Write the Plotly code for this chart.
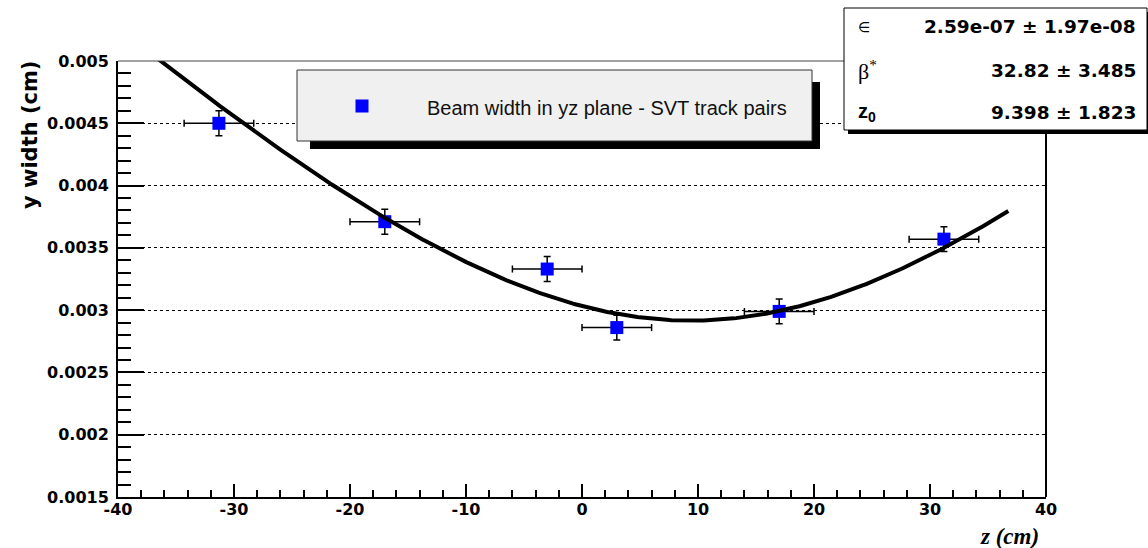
import numpy as np
import plotly.graph_objects as go

# ---------------- data ----------------
z_pos = [-31.3, -17.0, -3.0, 3.0, 17.0, 31.2]
y_width = [0.00450, 0.00371, 0.00333, 0.00286, 0.00299, 0.00357]
z_err = [3.0, 3.0, 3.0, 3.0, 3.0, 3.0]
y_err = [0.0001, 0.0001, 0.0001, 0.0001, 0.0001, 0.0001]

# fit parameters (shown in the stats box)
fit_eps = 2.59e-07
fit_beta = 32.82
fit_z0 = 9.398
fit_z_range = [-37.0, 36.75]

stat_names = ["∈", "β<sup>*</sup>", "<b>z<sub>0</sub></b>"]
stat_values = ["2.59e-07 ± 1.97e-08", "32.82 ± 3.485", "9.398 ± 1.823"]

x_tickvals = [-40, -30, -20, -10, 0, 10, 20, 30, 40]
x_ticktext = ["-40", "-30", "-20", "-10", "0", "10", "20", "30", "40"]
y_tickvals = [0.0015, 0.002, 0.0025, 0.003, 0.0035, 0.004, 0.0045, 0.005]
y_ticktext = ["0.0015", "0.002", "0.0025", "0.003", "0.0035", "0.004", "0.0045", "0.005"]

legend_label = "Beam width in yz plane - SVT track pairs"
x_title = "z (cm)"
y_title = "y width (cm)"

# ---------------- layout geometry (pixels) ----------------
W, H = 1148, 548
ML, MR, MT, MB = 118, 102, 61, 51
PW, PH = W - ML - MR, H - MT - MB


def px(xp):
    return (xp - ML) / PW


def py(yp):
    return (H - MB - yp) / PH


# fit curve evaluated from the fit parameters
z_fit = np.linspace(fit_z_range[0], fit_z_range[1], 400)
y_fit = np.sqrt(fit_eps * fit_beta * (1 + ((z_fit - fit_z0) / fit_beta) ** 2))

fig = go.Figure()

fig.add_trace(go.Scatter(
    x=z_pos, y=y_width, mode="markers",
    marker=dict(symbol="square", size=13, color="#0000ff", line=dict(width=0)),
    error_x=dict(type="data", array=z_err, color="black", thickness=1.5, width=3.5),
    error_y=dict(type="data", array=y_err, color="black", thickness=1.5, width=3.5),
    name=legend_label, showlegend=False,
))

fig.add_trace(go.Scatter(
    x=z_fit, y=y_fit, mode="lines",
    line=dict(color="black", width=4),
    showlegend=False, hoverinfo="skip",
))

tick_font = dict(family="DejaVu Sans, sans-serif", size=16, color="black", weight="bold")

fig.update_xaxes(
    range=[-40, 40], tickmode="array", tickvals=x_tickvals, ticktext=x_ticktext,
    ticks="inside", ticklen=13, tickwidth=1.5, tickcolor="black",
    minor=dict(ticks="inside", ticklen=7, tickwidth=1.5, tickcolor="black",
               tickmode="linear", tick0=-40, dtick=2, showgrid=False),
    showline=True, linecolor="black", linewidth=2, mirror=False,
    showgrid=False, zeroline=False, tickfont=tick_font, ticklabelstandoff=-3,
)
fig.update_yaxes(
    range=[0.0015, 0.005], tickmode="array", tickvals=y_tickvals, ticktext=y_ticktext,
    ticks="inside", ticklen=26, tickwidth=1.5, tickcolor="black",
    minor=dict(ticks="inside", ticklen=13, tickwidth=1.5, tickcolor="black",
               tickmode="linear", tick0=0.0015, dtick=0.0001, showgrid=False),
    showline=True, linecolor="black", linewidth=2, mirror=False,
    showgrid=True, gridcolor="black", gridwidth=1, griddash="dot",
    zeroline=False, tickfont=tick_font, ticklabelstandoff=4,
)

shapes = [
    # frame: top and right
    dict(type="line", xref="paper", yref="paper", x0=0, x1=1, y0=1, y1=1,
         line=dict(color="#444", width=1), layer="above"),
    dict(type="line", xref="paper", yref="paper", x0=1, x1=1, y0=0, y1=1,
         line=dict(color="black", width=2), layer="above"),
    # legend shadow and box
    dict(type="rect", xref="paper", yref="paper", x0=px(310), x1=px(820), y0=py(149), y1=py(82),
         fillcolor="black", line=dict(width=0), layer="above"),
    dict(type="rect", xref="paper", yref="paper", x0=px(297), x1=px(812), y0=py(141), y1=py(70),
         fillcolor="#f0f0f0", line=dict(color="#333", width=1), layer="above"),
    dict(type="rect", xref="paper", yref="paper", x0=px(355.5), x1=px(368.5), y0=py(112.5), y1=py(99.5),
         fillcolor="#0000ff", line=dict(width=0), layer="above"),
    # stats shadow and box
    dict(type="rect", xref="paper", yref="paper", x0=px(848), x1=px(1152), y0=py(134), y1=py(12),
         fillcolor="black", line=dict(width=0), layer="above"),
    dict(type="rect", xref="paper", yref="paper", x0=px(844), x1=px(1147), y0=py(130), y1=py(8),
         fillcolor="white", line=dict(color="black", width=1), layer="above"),
]

annotations = [
    dict(text=legend_label, x=px(425), y=py(107.5), xref="paper", yref="paper",
         xanchor="left", yanchor="middle", showarrow=False,
         font=dict(family="Liberation Sans, Arial, sans-serif", size=20, color="#111")),
    dict(text="<b>" + y_title + "</b>", x=px(30), y=py(135), xref="paper", yref="paper",
         xanchor="center", yanchor="middle", textangle=-90, showarrow=False,
         font=dict(family="DejaVu Sans, sans-serif", size=21, color="black")),
    dict(text="<b><i>" + x_title + "</i></b>", x=px(1041), y=py(536), xref="paper", yref="paper",
         xanchor="right", yanchor="middle", showarrow=False,
         font=dict(family="Liberation Serif, Times New Roman, serif", size=23, color="black")),
]

row_y = [27, 70, 112.5]
name_fonts = [
    dict(family="DejaVu Sans, sans-serif", size=14, color="black"),
    dict(family="Liberation Serif, serif", size=22, color="black"),
    dict(family="Liberation Sans, Arial, sans-serif", size=20, color="black"),
]
for name, val, ry, nf in zip(stat_names, stat_values, row_y, name_fonts):
    annotations.append(dict(text=name, x=px(856), y=py(ry), xref="paper", yref="paper",
                            xanchor="left", yanchor="middle", showarrow=False, font=nf))
    annotations.append(dict(text="<b>" + val + "</b>", x=px(1138), y=py(ry), xref="paper", yref="paper",
                            xanchor="right", yanchor="middle", showarrow=False,
                            font=dict(family="DejaVu Sans, sans-serif", size=18.5, color="black")))

fig.update_layout(
    width=W, height=H, autosize=False,
    margin=dict(l=ML, r=MR, t=MT, b=MB, pad=0),
    paper_bgcolor="white", plot_bgcolor="white",
    shapes=shapes, annotations=annotations, showlegend=False,
)

fig.write_html("out.html", config={"displayModeBar": False},
               post_script="document.body.style.margin='0';document.body.style.overflow='hidden';")
